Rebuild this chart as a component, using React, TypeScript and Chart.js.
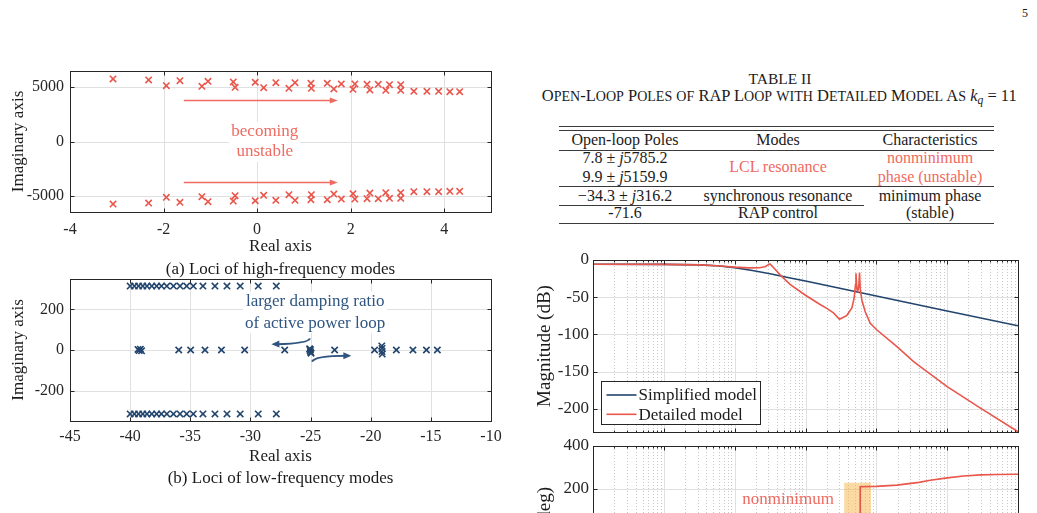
import React, { useEffect, useRef } from "react";
import { Chart, registerables } from "chart.js";

Chart.register(...registerables);

const SERIF = '"Liberation Serif", "Times New Roman", Times, serif';
const INK = "#262626";
const TEXT = "#1b1b1b";
const GRID = "#e0e0e0";
const MINOR_GRID = "#c8c8c8";
const RED = "#e9564b";
const RED_TEXT = "#ef6a60";
const BLUE = "#22456e";
const BLUE_TEXT = "#2f5580";
const SHADE = "rgba(245, 180, 70, 0.5)";

// ---------- (a) loci of the high-frequency modes ----------
const hfReal = [
  -3.08, -2.32, -1.65, -1.05, -0.51, -0.04, 0.4, 0.81, 1.15, 1.5, 1.8, 2.09, 2.35, 2.59, 2.83, 3.07,
  -1.94, -1.18, -0.47, 0.14, 0.68, 1.16, 1.64, 2.05, 2.41, 2.75, 3.07, 3.35, 3.63, 3.88, 4.12, 4.33,
];
const hfUpperImag = [
  5766, 5674, 5609, 5554, 5489, 5462, 5425, 5425, 5369, 5369, 5305, 5305, 5277, 5277, 5240, 5240,
  5148, 5093, 5000, 4963, 4908, 4908, 4843, 4815, 4751, 4723, 4723, 4631, 4631, 4631, 4594, 4594,
];
const hfLowerImag = [
  -5766, -5674, -5609, -5554, -5489, -5462, -5425, -5425, -5369, -5369, -5305, -5305, -5277, -5277, -5240, -5240,
  -5148, -5093, -5000, -4963, -4908, -4908, -4843, -4815, -4751, -4723, -4723, -4631, -4631, -4631, -4594, -4594,
];
const hfXTicks = [-4, -2, 0, 2, 4];
const hfYTicks = [-5000, 0, 5000];
const hfNote = ["becoming", "unstable"];
const hfNoteAt = { x: 0.165, y: [904, -969] };
const hfArrowX = [-1.567, 1.725];
const hfArrowY = [3780, -3780];

// ---------- (b) loci of the low-frequency modes ----------
const lfRowReal = [
  -40.0, -39.65, -39.3, -38.95, -38.6, -38.2, -37.8, -37.4, -36.95, -36.4, -35.85, -35.3,
  -34.75, -33.95, -32.95, -31.95, -30.85, -29.35, -27.85,
];
const lfUpperImag = [315, 315, 315, 315, 315, 315, 315, 315, 315, 315, 315, 315, 315, 315, 315, 315, 315, 315, 315];
const lfLowerImag = [-315, -315, -315, -315, -315, -315, -315, -315, -315, -315, -315, -315, -315, -315, -315, -315, -315, -315, -315];
const lfAxisReal = [
  -39.35, -39.25, -39.15, -39.05, -35.96, -34.97, -33.78, -32.41, -30.48, -27.15,
  -25.08, -25.04, -25.02, -25.0, -24.96, -23.0, -19.68, -19.08, -19.06, -19.06, -19.04,
  -17.87, -16.49, -15.37, -14.46,
];
const lfAxisImag = [3, -3, 4, -4, 0, 0, 0, 0, 0, 0, 6, -2, 2, -10, -16, 0, 0, 20, 8, -8, -20, 0, 0, 0, 0];
const lfXTicks = [-45, -40, -35, -30, -25, -20, -15, -10];
const lfYTicks = [-200, 0, 200];
const lfNote = ["larger damping ratio", "of active power loop"];
const lfNoteAt = { x: -24.62, y: [238, 131.6] };
// curved arrows: start, control, tip (real, imag)
const lfArrowLeft = [[-25.07, 57.7], [-25.13, 33], [-28.26, 28]];
const lfArrowRight = [[-24.88, -57.7], [-24.66, -28], [-21.61, -28]];

// ---------- Bode diagram ----------
const magSimplifiedFreq = [1, 10, 31.6, 56.2, 100, 178, 316, 562, 1000, 3162, 10000, 100000, 1000000];
const magSimplifiedDb = [-5.8, -5.9, -6.5, -7.7, -10.2, -14.0, -18.5, -23.4, -28.3, -38.3, -48.4, -68.4, -88.4];
const magDetailedFreq = [
  1, 10, 31.6, 63, 100, 158, 224, 269, 295, 316, 340, 380, 438, 605, 986, 1607, 2000, 2483, 3020, 3436,
  3837, 4519, 4864, 5082, 5160, 5321, 5495, 5675, 5785, 5916, 6252, 6966, 8204, 10210, 19540, 33570,
  100000, 295100, 1000000,
];
const magDetailedDb = [
  -5.8, -5.9, -6.5, -8.0, -9.6, -10.6, -10.4, -9.0, -6.6, -5.4, -8.5, -13.5, -20, -32.7, -47, -59.7, -65, -71, -79.6, -76.9,
  -74.3, -64.3, -51, -33, -17.9, -40, -42, -33, -17, -38, -54, -69.5, -85, -94, -116.4, -136.6,
  -170, -199, -230.7,
];
const phaseSimplifiedFreq = [1, 10, 31.6, 75, 178, 562, 3162, 1000000];
const phaseSimplifiedDeg = [-0.8, -7.6, -22.8, -45, -67, -82.4, -88.6, -90];
const phaseDetailedFreq = [
  1, 10, 100, 250, 300, 316, 340, 500, 1000, 3000, 5160, 5916, 5916, 10000, 19540, 40000, 57810,
  100000, 171000, 300000, 508000, 1000000,
];
const phaseDetailedDeg = [
  -0.8, -7.6, -45, -62, -75, -110, -150, -168, -172, -160, -150, -140, 209.5, 211, 217, 230, 240,
  251, 260, 265, 267, 268,
];
const bodeDecades = [1, 10, 100, 1000, 10000, 100000, 1000000];
const magTicks = [0, -50, -100, -150, -200];
const phaseTicks = [-400, -200, 0, 200, 400];
const shadeFreq = [3516, 8390];
const shadeDeg = [228, -400];
const phaseNote = "nonminimum";
const phaseNoteAt = { x: 567, y: 151.5 };

// ---------- table ----------
const tableHeader = ["Open-loop Poles", "Modes", "Characteristics"];

const pts = (xs: number[], ys: number[]) => xs.map((x, i) => ({ x, y: ys[i] }));
const tickList = (vals: number[]) => (s: any) => {
  s.ticks = vals.map((value) => ({ value, major: true }));
};

function line(ctx: CanvasRenderingContext2D, x1: number, y1: number, x2: number, y2: number) {
  ctx.beginPath();
  ctx.moveTo(x1, y1);
  ctx.lineTo(x2, y2);
  ctx.stroke();
}

function arrowHead(ctx: CanvasRenderingContext2D, tipX: number, tipY: number, fromX: number, fromY: number, len: number, half: number) {
  const ang = Math.atan2(tipY - fromY, tipX - fromX);
  const bx = tipX - Math.cos(ang) * len;
  const by = tipY - Math.sin(ang) * len;
  ctx.beginPath();
  ctx.moveTo(tipX, tipY);
  ctx.lineTo(bx + Math.sin(ang) * half, by - Math.cos(ang) * half);
  ctx.lineTo(bx - Math.sin(ang) * half, by + Math.cos(ang) * half);
  ctx.closePath();
  ctx.fill();
}

function noteBlock(chart: any, lines: string[], at: { x: number; y: number[] }, color: string) {
  const { ctx, scales } = chart;
  const cx = scales.x.getPixelForValue(at.x);
  const ys = at.y.map((v) => scales.y.getPixelForValue(v));
  ctx.font = `17px ${SERIF}`;
  const w = Math.max(...lines.map((t) => ctx.measureText(t).width)) + 4;
  ctx.fillStyle = "#ffffff";
  ctx.fillRect(cx - w / 2, ys[0] - 10, w, ys[ys.length - 1] - ys[0] + 20);
  ctx.fillStyle = color;
  ctx.textAlign = "center";
  ctx.textBaseline = "middle";
  lines.forEach((t, i) => ctx.fillText(t, cx, ys[i]));
}

function curvedArrow(chart: any, p: number[][], color: string) {
  const { ctx, scales } = chart;
  const P = p.map(([x, y]) => [scales.x.getPixelForValue(x), scales.y.getPixelForValue(y)]);
  const [s, c, t] = P;
  const ang = Math.atan2(t[1] - c[1], t[0] - c[0]);
  const ex = t[0] - Math.cos(ang) * 5;
  const ey = t[1] - Math.sin(ang) * 5;
  ctx.strokeStyle = color;
  ctx.fillStyle = color;
  ctx.lineWidth = 2;
  ctx.beginPath();
  ctx.moveTo(s[0], s[1]);
  ctx.quadraticCurveTo(c[0], c[1], ex, ey);
  ctx.stroke();
  arrowHead(ctx, t[0], t[1], c[0], c[1], 8, 3.5);
}

// MATLAB-like axes: light grid, dotted minor grid on log axes, dark box with inward ticks
function matlabAxes(o: { logX?: boolean; before?: (c: any) => void; after?: (c: any) => void }) {
  const crisp = (v: number) => Math.round(v) + 0.5;
  const minorValues = (s: any) => {
    const out: number[] = [];
    for (let d = Math.round(Math.log10(s.min)); d < Math.round(Math.log10(s.max)); d++) {
      for (let m = 2; m <= 9; m++) out.push(m * Math.pow(10, d));
    }
    return out;
  };
  return {
    id: "matlabAxes",
    beforeDatasetsDraw(chart: any) {
      const { ctx, chartArea: a, scales } = chart;
      const xs = scales.x;
      const ys = scales.y;
      ctx.save();
      ctx.lineWidth = 1;
      if (o.logX) {
        ctx.strokeStyle = MINOR_GRID;
        ctx.setLineDash([1, 2]);
        for (const v of minorValues(xs)) {
          const p = crisp(xs.getPixelForValue(v));
          line(ctx, p, a.top, p, a.bottom);
        }
        ctx.setLineDash([]);
      }
      ctx.strokeStyle = GRID;
      for (const t of xs.ticks) {
        const p = crisp(xs.getPixelForValue(t.value));
        line(ctx, p, a.top, p, a.bottom);
      }
      for (const t of ys.ticks) {
        const p = crisp(ys.getPixelForValue(t.value));
        line(ctx, a.left, p, a.right, p);
      }
      ctx.restore();
      if (o.before) {
        ctx.save();
        o.before(chart);
        ctx.restore();
      }
    },
    afterDatasetsDraw(chart: any) {
      const { ctx, chartArea: a, scales } = chart;
      const xs = scales.x;
      const ys = scales.y;
      const L = crisp(a.left);
      const R = crisp(a.right);
      const T = crisp(a.top);
      const B = crisp(a.bottom);
      ctx.save();
      ctx.strokeStyle = INK;
      ctx.lineWidth = 1;
      const tl = 4;
      for (const t of xs.ticks) {
        const p = crisp(xs.getPixelForValue(t.value));
        line(ctx, p, B, p, B - tl);
        line(ctx, p, T, p, T + tl);
      }
      if (o.logX) {
        for (const v of minorValues(xs)) {
          const p = crisp(xs.getPixelForValue(v));
          line(ctx, p, B, p, B - 2);
          line(ctx, p, T, p, T + 2);
        }
      }
      for (const t of ys.ticks) {
        const p = crisp(ys.getPixelForValue(t.value));
        line(ctx, L, p, L + tl, p);
        line(ctx, R, p, R - tl, p);
      }
      ctx.strokeRect(L, T, R - L, B - T);
      ctx.restore();
      if (o.after) {
        ctx.save();
        o.after(chart);
        ctx.restore();
      }
    },
  };
}

const baseOptions = (padding: any) => ({
  animation: false,
  responsive: true,
  maintainAspectRatio: false,
  events: [],
  layout: { padding },
  plugins: { legend: { display: false }, tooltip: { enabled: false }, title: { display: false } },
});

const markerSet = (data: any[], color: string) => ({
  data,
  showLine: false,
  pointStyle: "crossRot",
  pointRadius: 4.5,
  pointHoverRadius: 4.5,
  borderColor: color,
  backgroundColor: color,
  pointBorderColor: color,
  pointBorderWidth: 1.6,
  borderWidth: 1.6,
});

const lineSet = (label: string, data: any[], color: string) => ({
  label,
  data,
  borderColor: color,
  backgroundColor: color,
  borderWidth: 1.6,
  pointRadius: 0,
  tension: 0,
  fill: false,
});

const tickFont = (size: number) => ({ family: SERIF, size });
const noGrid = { display: false, drawTicks: false, tickLength: 0 };

function lociAxes(o: {
  xMin: number; xMax: number; xTicks: number[]; yMin: number; yMax: number; yTicks: number[];
  xFit: number; xPad: number;
}) {
  return {
    x: {
      type: "linear",
      min: o.xMin,
      max: o.xMax,
      afterBuildTicks: tickList(o.xTicks),
      afterFit: (s: any) => { s.height = o.xFit; },
      grid: noGrid,
      border: { display: false },
      ticks: { color: INK, font: tickFont(16), padding: o.xPad, maxRotation: 0, autoSkip: false, callback: (v: any) => String(v) },
      title: { display: true, text: "Real axis", color: TEXT, font: tickFont(17), padding: { top: 0, bottom: 3 } },
    },
    y: {
      type: "linear",
      min: o.yMin,
      max: o.yMax,
      afterBuildTicks: tickList(o.yTicks),
      afterFit: (s: any) => { s.width = 70; },
      grid: noGrid,
      border: { display: false },
      ticks: { color: INK, font: tickFont(16), padding: 6, autoSkip: false, callback: (v: any) => String(v) },
      title: { display: true, text: "Imaginary axis", color: TEXT, font: tickFont(17), padding: { top: 8, bottom: 0 } },
    },
  };
}

function bodeAxes(yMin: number, yMax: number, yTicks: number[], title: string) {
  return {
    x: {
      type: "logarithmic",
      min: 1,
      max: 1000000,
      afterBuildTicks: tickList(bodeDecades),
      afterFit: (s: any) => { s.height = 0; },
      grid: noGrid,
      border: { display: false },
      ticks: { display: false },
    },
    y: {
      type: "linear",
      min: yMin,
      max: yMax,
      afterBuildTicks: tickList(yTicks),
      afterFit: (s: any) => { s.width = 63; },
      grid: noGrid,
      border: { display: false },
      ticks: { color: INK, font: tickFont(17), padding: 4, autoSkip: false, callback: (v: any) => String(v) },
      title: { display: true, text: title, color: TEXT, font: tickFont(19), padding: { top: 3.6, bottom: 0 } },
    },
  };
}

const Txt = ({ x, y, size = 17, color = TEXT, children, style }: any) => (
  <div
    style={{
      position: "absolute", left: x, top: y, transform: "translate(-50%, -50%)",
      fontSize: size, lineHeight: 1, whiteSpace: "nowrap", color, ...style,
    }}
  >
    {children}
  </div>
);

const Rule = ({ x1, x2, y }: any) => (
  <div style={{ position: "absolute", left: x1, top: y, width: x2 - x1, height: 1, background: "#3a3a3a" }} />
);

const SmallCaps = ({ text, scale = 0.8 }: any) => (
  <>
    {text.split(/([a-z]+)/).map((part: string, i: number) =>
      /^[a-z]+$/.test(part) ? (
        <span key={i} style={{ fontSize: `${scale}em` }}>{part.toUpperCase()}</span>
      ) : (
        <React.Fragment key={i}>{part}</React.Fragment>
      )
    )}
  </>
);

const Frame = ({ left, top, width, height, canvasRef }: any) => (
  <div style={{ position: "absolute", left, top, width, height }}>
    <canvas ref={canvasRef} />
  </div>
);

export default function App() {
  const hfRef = useRef<HTMLCanvasElement>(null);
  const lfRef = useRef<HTMLCanvasElement>(null);
  const magRef = useRef<HTMLCanvasElement>(null);
  const phaseRef = useRef<HTMLCanvasElement>(null);

  useEffect(() => {
    const charts: Chart[] = [];

    charts.push(
      new Chart(hfRef.current as HTMLCanvasElement, {
        type: "scatter",
        data: {
          datasets: [
            markerSet(pts(hfReal, hfUpperImag), RED),
            markerSet(pts(hfReal, hfLowerImag), RED),
          ],
        },
        options: {
          ...baseOptions({ left: 0, right: 29, top: 16, bottom: 0 }),
          scales: lociAxes({ xMin: -4, xMax: 5, xTicks: hfXTicks, yMin: -6500, yMax: 6500, yTicks: hfYTicks, xFit: 48, xPad: 8 }),
        },
        plugins: [
          matlabAxes({
            before: (chart: any) => {
              const { ctx, scales } = chart;
              noteBlock(chart, hfNote, hfNoteAt, RED_TEXT);
              ctx.strokeStyle = RED_TEXT;
              ctx.fillStyle = RED_TEXT;
              ctx.lineWidth = 1.6;
              const x0 = scales.x.getPixelForValue(hfArrowX[0]);
              const x1 = scales.x.getPixelForValue(hfArrowX[1]);
              for (const yv of hfArrowY) {
                const y = scales.y.getPixelForValue(yv);
                line(ctx, x0, y, x1 - 5, y);
                arrowHead(ctx, x1, y, x0, y, 8, 3);
              }
            },
          }),
        ],
      } as any)
    );

    charts.push(
      new Chart(lfRef.current as HTMLCanvasElement, {
        type: "scatter",
        data: {
          datasets: [
            markerSet(pts(lfRowReal, lfUpperImag), BLUE),
            markerSet(pts(lfAxisReal, lfAxisImag), BLUE),
            markerSet(pts(lfRowReal, lfLowerImag), BLUE),
          ],
        },
        options: {
          ...baseOptions({ left: 0, right: 29, top: 16, bottom: 0 }),
          scales: lociAxes({ xMin: -45, xMax: -10, xTicks: lfXTicks, yMin: -350, yMax: 350, yTicks: lfYTicks, xFit: 49, xPad: 6 }),
        },
        plugins: [
          matlabAxes({
            before: (chart: any) => {
              noteBlock(chart, lfNote, lfNoteAt, BLUE_TEXT);
              curvedArrow(chart, lfArrowLeft, BLUE_TEXT);
              curvedArrow(chart, lfArrowRight, BLUE_TEXT);
            },
          }),
        ],
      } as any)
    );

    charts.push(
      new Chart(magRef.current as HTMLCanvasElement, {
        type: "line",
        data: {
          datasets: [
            lineSet("Detailed model", pts(magDetailedFreq, magDetailedDb), RED),
            lineSet("Simplified model", pts(magSimplifiedFreq, magSimplifiedDb), BLUE),
          ],
        },
        options: {
          ...baseOptions({ left: 0, right: 19, top: 15, bottom: 15 }),
          scales: bodeAxes(-231, 0, magTicks, "Magnitude (dB)"),
        },
        plugins: [
          matlabAxes({
            logX: true,
            after: (chart: any) => {
              const { ctx, chartArea: a } = chart;
              const entries = [
                { label: "Simplified model", color: BLUE },
                { label: "Detailed model", color: RED },
              ];
              const bx = Math.round(a.left) + 8.5;
              const by = Math.round(a.bottom) - 50.5;
              ctx.fillStyle = "#ffffff";
              ctx.fillRect(bx, by, 159, 43);
              ctx.strokeStyle = INK;
              ctx.lineWidth = 1;
              ctx.strokeRect(bx, by, 159, 43);
              ctx.font = `17px ${SERIF}`;
              ctx.textBaseline = "middle";
              ctx.textAlign = "left";
              entries.forEach((e, i) => {
                const y = by + 13.5 + i * 19.3;
                ctx.strokeStyle = e.color;
                ctx.lineWidth = 1.6;
                line(ctx, bx + 5, y, bx + 35, y);
                ctx.fillStyle = TEXT;
                ctx.fillText(e.label, bx + 37, y + 1);
              });
            },
          }),
        ],
      } as any)
    );

    charts.push(
      new Chart(phaseRef.current as HTMLCanvasElement, {
        type: "line",
        data: {
          datasets: [
            lineSet("Detailed model", pts(phaseDetailedFreq, phaseDetailedDeg), RED),
            lineSet("Simplified model", pts(phaseSimplifiedFreq, phaseSimplifiedDeg), BLUE),
          ],
        },
        options: {
          ...baseOptions({ left: 0, right: 19, top: 16, bottom: 23 }),
          scales: bodeAxes(-400, 400, phaseTicks, "Phase (deg)"),
        },
        plugins: [
          matlabAxes({
            logX: true,
            before: (chart: any) => {
              const { ctx, chartArea: a, scales } = chart;
              ctx.beginPath();
              ctx.rect(a.left, a.top, a.right - a.left, a.bottom - a.top);
              ctx.clip();
              const x0 = scales.x.getPixelForValue(shadeFreq[0]);
              const x1 = scales.x.getPixelForValue(shadeFreq[1]);
              const y0 = scales.y.getPixelForValue(shadeDeg[0]);
              const y1 = scales.y.getPixelForValue(shadeDeg[1]);
              ctx.fillStyle = SHADE;
              ctx.fillRect(x0, y0, x1 - x0, y1 - y0);
              ctx.font = `17px ${SERIF}`;
              ctx.fillStyle = RED_TEXT;
              ctx.textAlign = "center";
              ctx.textBaseline = "middle";
              ctx.fillText(phaseNote, scales.x.getPixelForValue(phaseNoteAt.x), scales.y.getPixelForValue(phaseNoteAt.y));
            },
          }),
        ],
      } as any)
    );

    return () => charts.forEach((c) => c.destroy());
  }, []);

  const colX = [625, 778, 930];

  return (
    <div
      style={{
        position: "fixed", left: 0, top: 0, width: 1037, height: 513, overflow: "hidden",
        background: "#ffffff", fontFamily: SERIF, color: TEXT,
      }}
    >
      <Txt x={1025} y={12.5} size={12}>5</Txt>

      <Frame left={0} top={55} width={520} height={205} canvasRef={hfRef} />
      <Txt x={280.5} y={268}>(a) Loci of high-frequency modes</Txt>

      <Frame left={0} top={263} width={520} height={207} canvasRef={lfRef} />
      <Txt x={280.5} y={477}>(b) Loci of low-frequency modes</Txt>

      <Txt x={780} y={78.5} size={15.5}>TABLE II</Txt>
      <Txt x={779.3} y={95.5} size={16.5}>
        <SmallCaps text="Open-Loop Poles of RAP Loop with Detailed Model As" scale={0.85} />{" "}
        <i>k</i>
        <span style={{ fontSize: "0.7em", fontStyle: "italic", position: "relative", top: "0.3em" }}>q</span>
        {" = 11"}
      </Txt>

      <Rule x1={559} x2={994} y={126} />
      <Rule x1={559} x2={994} y={129.5} />
      {tableHeader.map((h, i) => (
        <Txt key={h} x={colX[i]} y={140} size={16}>{h}</Txt>
      ))}
      <Rule x1={559} x2={994} y={149.5} />
      <Txt x={colX[0]} y={158.3} size={16}>7.8 ± <i>j</i>5785.2</Txt>
      <Txt x={colX[0]} y={176.7} size={16}>9.9 ± <i>j</i>5159.9</Txt>
      <Txt x={colX[1]} y={167.3} size={16} color={RED_TEXT}>LCL resonance</Txt>
      <Txt x={colX[2]} y={158.3} size={16} color={RED_TEXT}>nonminimum</Txt>
      <Txt x={colX[2]} y={176.7} size={16} color={RED_TEXT}>phase (unstable)</Txt>
      <Rule x1={559} x2={994} y={186.2} />
      <Txt x={colX[0]} y={195.7} size={16}>−34.3 ± <i>j</i>316.2</Txt>
      <Txt x={colX[1]} y={195.7} size={16}>synchronous resonance</Txt>
      <Txt x={colX[2]} y={195.7} size={16}>minimum phase</Txt>
      <Rule x1={559} x2={864} y={205.2} />
      <Txt x={colX[0]} y={213.3} size={16}>-71.6</Txt>
      <Txt x={colX[1]} y={213.3} size={16}>RAP control</Txt>
      <Txt x={colX[2]} y={213.3} size={16}>(stable)</Txt>
      <Rule x1={559} x2={994} y={222.8} />

      <Frame left={530} top={245} width={507} height={202} canvasRef={magRef} />
      <Frame left={530} top={430} width={507} height={210} canvasRef={phaseRef} />
    </div>
  );
}
